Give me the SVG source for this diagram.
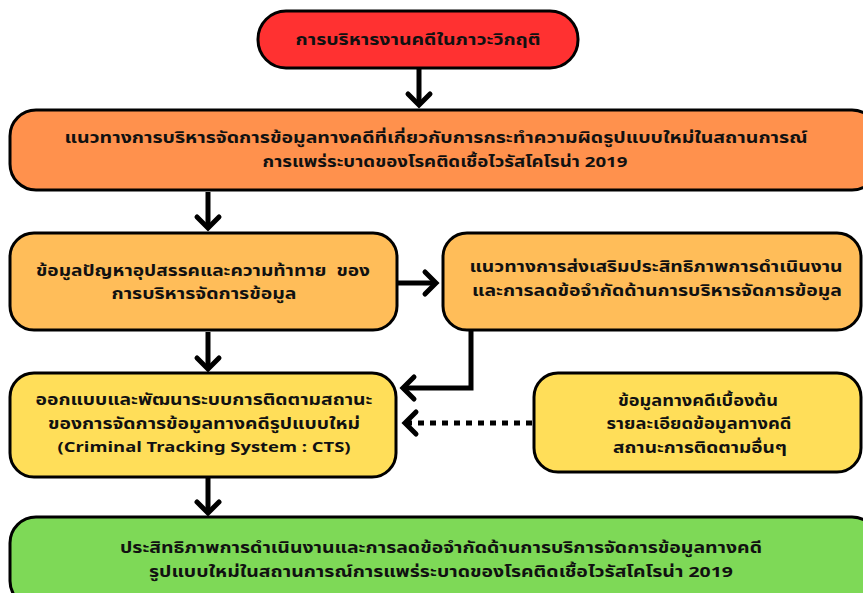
<svg xmlns="http://www.w3.org/2000/svg" width="863" height="593" viewBox="0 0 863 593">
<style>
.box{stroke:#000;stroke-width:3}
.t{font-family:"Noto Sans Thai","Noto Sans","DejaVu Sans",sans-serif;font-weight:bold;font-size:15px;fill:#111;text-anchor:middle;white-space:pre}
.c{stroke:#000;stroke-width:5;fill:none}
</style>
<defs>
<marker id="ah" markerUnits="userSpaceOnUse" markerWidth="30" markerHeight="30" viewBox="-16 -15 20 30" refX="0" refY="0" orient="auto">
<path d="M -11 -11 L 0 0 L -11 11" fill="none" stroke="#000" stroke-width="5" stroke-linecap="round" stroke-linejoin="miter"/>
</marker>
</defs>
<rect width="863" height="593" fill="#fff"/>
<g id="n1">
<rect class="box" x="258" y="11" width="320" height="57" rx="28" fill="#FF3131"/>
<text class="t" x="418" y="45" textLength="245" lengthAdjust="spacingAndGlyphs">การบริหารงานคดีในภาวะวิกฤติ</text>
</g>
<g id="n2">
<rect class="box" x="10" y="110" width="868" height="80" rx="26" fill="#FF914D"/>
<text class="t" x="436" y="143" textLength="743" lengthAdjust="spacingAndGlyphs">แนวทางการบริหารจัดการข้อมูลทางคดีที่เกี่ยวกับการกระทำความผิดรูปแบบใหม่ในสถานการณ์</text>
<text class="t" x="445" y="167" textLength="365" lengthAdjust="spacingAndGlyphs">การแพร่ระบาดของโรคติดเชื้อไวรัสโคโรน่า 2019</text>
</g>
<g id="n3">
<rect class="box" x="10" y="233" width="387" height="97" rx="24" fill="#FFBD59"/>
<text class="t" x="203" y="276" textLength="334" lengthAdjust="spacingAndGlyphs" xml:space="preserve">ข้อมูลปัญหาอุปสรรคและความท้าทาย  ของ</text>
<text class="t" x="204" y="299" textLength="185" lengthAdjust="spacingAndGlyphs">การบริหารจัดการข้อมูล</text>
</g>
<g id="n4">
<rect class="box" x="443" y="233" width="418" height="97" rx="24" fill="#FFBD59"/>
<text class="t" x="656" y="272" textLength="373" lengthAdjust="spacingAndGlyphs">แนวทางการส่งเสริมประสิทธิภาพการดำเนินงาน</text>
<text class="t" x="657" y="296" textLength="370" lengthAdjust="spacingAndGlyphs">และการลดข้อจำกัดด้านการบริหารจัดการข้อมูล</text>
</g>
<g id="n5">
<rect class="box" x="10" y="373" width="386" height="104" rx="24" fill="#FFDE59"/>
<text class="t" x="204" y="405" textLength="337" lengthAdjust="spacingAndGlyphs">ออกแบบและพัฒนาระบบการติดตามสถานะ</text>
<text class="t" x="204" y="429" textLength="312" lengthAdjust="spacingAndGlyphs">ของการจัดการข้อมูลทางคดีรูปแบบใหม่</text>
<text class="t" x="204" y="452" textLength="293" lengthAdjust="spacingAndGlyphs">(Criminal Tracking System : CTS)</text>
</g>
<g id="n6">
<rect class="box" x="534" y="373" width="327" height="99" rx="24" fill="#FFDE59"/>
<text class="t" x="698" y="406" textLength="160" lengthAdjust="spacingAndGlyphs">ข้อมูลทางคดีเบื้องต้น</text>
<text class="t" x="699" y="429" textLength="185" lengthAdjust="spacingAndGlyphs">รายละเอียดข้อมูลทางคดี</text>
<text class="t" x="700" y="453" textLength="174" lengthAdjust="spacingAndGlyphs">สถานะการติดตามอื่นๆ</text>
</g>
<g id="n7">
<rect class="box" x="10" y="517" width="868" height="90" rx="26" fill="#7ED957"/>
<text class="t" x="441" y="553" textLength="642" lengthAdjust="spacingAndGlyphs">ประสิทธิภาพการดำเนินงานและการลดข้อจำกัดด้านการบริการจัดการข้อมูลทางคดี</text>
<text class="t" x="441" y="577" textLength="584" lengthAdjust="spacingAndGlyphs">รูปแบบใหม่ในสถานการณ์การแพร่ระบาดของโรคติดเชื้อไวรัสโคโรน่า 2019</text>
</g>
<g id="connectors">
<path class="c" d="M 419 69 V 105" marker-end="url(#ah)"/>
<path class="c" d="M 208 192 V 228" marker-end="url(#ah)"/>
<path class="c" d="M 398 283 H 436" marker-end="url(#ah)"/>
<path class="c" d="M 208 332 V 369" marker-end="url(#ah)"/>
<path class="c" d="M 471 331 V 388 H 403" marker-end="url(#ah)" stroke-linejoin="miter"/>
<path class="c" d="M 532 423 H 405" stroke-width="6" stroke-dasharray="6 6" marker-end="url(#ah)"/>
<path class="c" d="M 208 478 V 513" marker-end="url(#ah)"/>
</g>
</svg>
